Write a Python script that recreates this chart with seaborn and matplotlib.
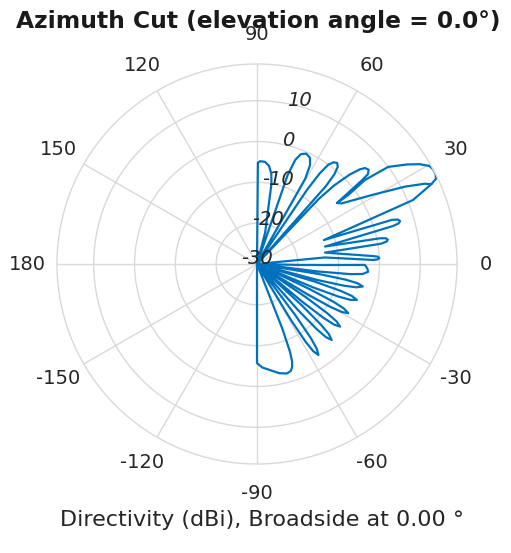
import numpy as np
import pandas as pd
import matplotlib
matplotlib.use("Agg")
import matplotlib.pyplot as plt
import seaborn as sns

sns.set_theme(style="white")
plt.rcParams["font.family"] = ["DejaVu Sans"]

# Azimuth cut of the directivity pattern, traced in drawing order (deg, dBi)
az_trace = [
    -90, -90, -87, -83, -78.5, -74.8, -72.5, -71.2, -70.2, -69.4, -68.6, -67.5,
    -58.8, -58.0, -57.2, -56.0, -54.8, -54.0, -53.2, -51,
    -48.3, -47.5, -46.7, -45.5, -44.3, -43.5, -42.7, -41.3,
    -39.8, -39.0, -38.2, -37.0, -35.8, -35.0, -34.2, -32.7,
    -31.1, -30.3, -29.5, -28.3, -27.1, -26.3, -25.5, -24,
    -22.6, -21.8, -21.0, -19.8, -18.6, -17.8, -17.0, -16,
    -14.8, -14.0, -13.2, -12.0, -10.8, -10.0, -9.2, -8,
    -7.0, -6.2, -5.4, -4.0, -2.6, -1.2, -0.5, -0.8, -1.3, 0,
    5.5, 2.0, 2.2, 2.8, 3.5, 3.9, 9.5,
    9.3, 9.8, 10.5, 11.3, 11.8, 14.4,
    15.6, 16.0, 16.7, 17.5, 18.1, 19.7,
    22.3, 24.6, 25.5, 26.8, 28.2, 29.6, 31.5, 33.5, 36.5, 37.9, 37.1, 37.3,
    38.6, 39.0, 40.2, 41.6, 42.6, 44.0, 45.5, 46.5, 47,
    48.5, 49.2, 50.3, 51.6, 53.0, 54.3, 55.3, 56.0, 57,
    60.5, 61.8, 63.5, 66.0, 68.2, 69.8, 71.0, 72,
    75.5, 79.8, 81.0, 83.0, 85.5, 88.3, 89.5, 90,
]
dbi_trace = [
    -30, -5.7, -4.6, -3.8, -2.7, -2.2, -2.5, -3.3, -4.6, -7.0, -13.0, -30,
    -14.1, -7.6, -4.6, -3.1, -4.6, -7.6, -14.1, -30,
    -14.9, -8.4, -5.4, -3.9, -5.4, -8.4, -14.9, -30,
    -15.5, -9.0, -6.0, -4.5, -6.0, -9.0, -15.5, -30,
    -15.6, -9.1, -6.1, -4.6, -6.1, -9.1, -15.6, -30,
    -15.0, -8.5, -5.5, -4.0, -5.5, -8.5, -15.0, -30,
    -14.5, -8.0, -5.0, -3.5, -5.0, -8.0, -14.5, -30,
    -15.0, -7.0, -4.0, -2.7, -2.9, -3.3, -3.6, -12.0, -19.5, -30,
    -13.3, -1.5, -0.4, 0.0, -0.4, -1.5, -13.1,
    0.8, 2.2, 2.6, 2.2, 0.8, -12.8,
    4.5, 6.1, 6.6, 6.2, 4.8, -12.6,
    11.3, 17.0, 18.6, 19.0, 19.0, 18.6, 16.8, 14.2, 10.0, 3.5, -2.0, -5.35,
    3.0, 5.0, 5.8, 5.4, 4.3, 1.5, -3.0, -8.0, -30,
    -4.5, -1.0, 1.0, 1.6, 1.2, 0.0, -3.0, -8.0, -30,
    -6.0, -2.5, -0.9, -0.4, -1.0, -2.8, -7.0, -30,
    -22.0, -10.0, -7.6, -5.8, -4.9, -4.8, -5.2, -30,
]
# inner edge of the main beam
az_beam_edge = [24.6, 25.6, 27.6, 31.0, 35.6, 37.3]
dbi_beam_edge = [17.0, 15.5, 10.9, 2.8, -4.5, -5.35]

ring_values = [-30, -20, -10, 0, 10]
angle_ticks = [0, 30, 60, 90, 120, 150, 180, 210, 240, 270, 300, 330]
angle_labels = ["0", "30", "60", "90", "120", "150", "180",
                "-150", "-120", "-90", "-60", "-30"]
r_min, r_max = -30, 19

df = pd.DataFrame({
    "theta": np.deg2rad(az_trace + az_beam_edge),
    "dbi": dbi_trace + dbi_beam_edge,
    "trace": [0] * len(az_trace) + [1] * len(az_beam_edge),
})

fig = plt.figure(figsize=(5.11, 5.53), dpi=100)
ax = fig.add_axes([57 / 511, 89 / 553, 400 / 511, 400 / 553], projection="polar")

sns.lineplot(data=df, x="theta", y="dbi", units="trace", estimator=None,
             sort=False, color="#0072BD", linewidth=1.6, ax=ax, legend=False)

grid_col = "#d9d9d9"
ax.set_ylim(r_min, r_max)
ax.set_yticks([-20, -10, 0, 10])
ax.set_yticklabels([])
ax.set_xticks(np.deg2rad(angle_ticks))
ax.set_xticklabels(angle_labels)
ax.grid(True, color=grid_col, linewidth=1.0)
ax.spines["polar"].set_color(grid_col)
ax.spines["polar"].set_linewidth(1.0)
ax.tick_params(axis="x", labelsize=14, pad=14, size=0, colors="#262626")
ax.set_xlabel("")
ax.set_ylabel("")

for v in ring_values:
    ax.annotate(str(v), xy=(np.deg2rad(75), v), xytext=(0, 4),
                textcoords="offset points", ha="center", va="center",
                fontsize=14, style="italic", color="#262626")

fig.text(0.506, 0.962, "Azimuth Cut (elevation angle = 0.0°)", ha="center",
         va="center", fontsize=16.8, fontweight="bold", color="#1a1a1a")
fig.text(0.513, 0.060, "Directivity (dBi), Broadside at 0.00 °", ha="center",
         va="center", fontsize=16, color="#262626")

fig.savefig("out.png", dpi=100)
